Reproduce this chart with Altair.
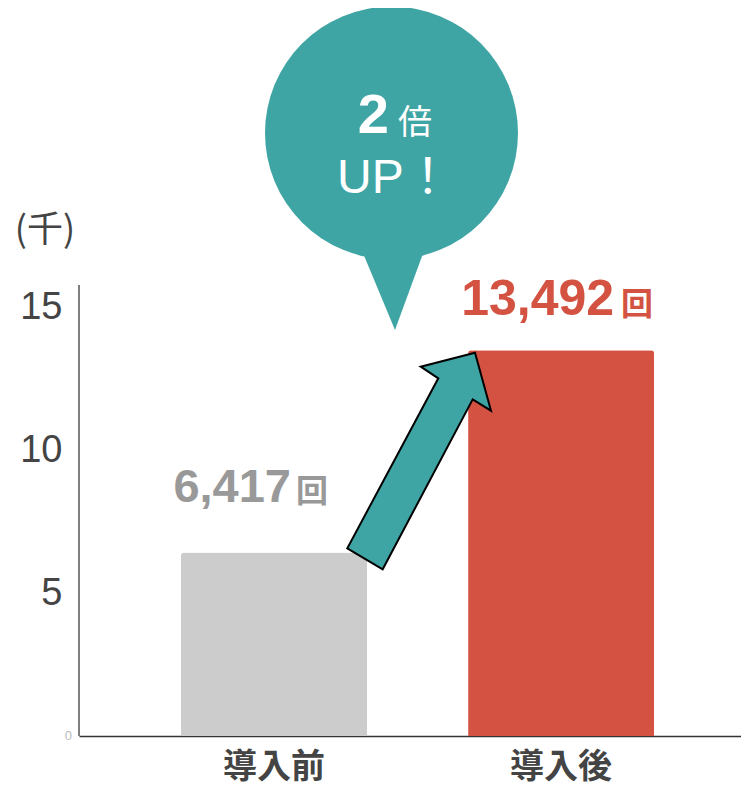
import altair as alt
import pandas as pd

categories = ["導入前", "導入後"]
values = [6.417, 13.492]
value_labels = ["6,417", "13,492"]
unit_label = "回"
bar_colors = ["#cccccc", "#d35241"]
label_colors = ["#999999", "#d35241"]
tick_values = [5, 10, 15]
y_unit = "(千)"
bubble_big = "2"
bubble_small = "倍"
bubble_line2 = "UP！"

TEAL = "#3fa5a4"
W, H = 662, 728
PX = 28.6
YMAX = H / PX

df = pd.DataFrame({"cat": categories, "value": values, "label": value_labels})
one = pd.DataFrame({"k": [0]})

xscale = alt.Scale(domain=categories, paddingInner=0.352, paddingOuter=0.329, align=0.54)
yscale = alt.Scale(domain=[0, YMAX], nice=False, zero=True)

base = alt.Chart(df)

bars = base.mark_bar(cornerRadiusTopLeft=3, cornerRadiusTopRight=3).encode(
    x=alt.X("cat:N", scale=xscale, sort=categories,
            axis=alt.Axis(title=None, ticks=False, domainColor="#333333", domainWidth=1.5,
                          labelFont="Noto Sans CJK JP", labelFontWeight="bold", labelFontSize=34,
                          labelColor="#444444", labelPadding=14, labelAngle=0)),
    y=alt.Y("value:Q", scale=yscale,
            axis=alt.Axis(title=None, values=tick_values, domain=False, ticks=False, grid=False,
                          labelFont="Liberation Sans", labelFontSize=38, labelColor="#444444",
                          labelPadding=17)),
    color=alt.Color("cat:N", scale=alt.Scale(domain=categories, range=bar_colors), legend=None),
)


def bar_label(i, dx_num, dx_unit, dy, num_size, unit_size):
    sub = base.transform_filter(alt.datum.cat == categories[i])
    enc = dict(x=alt.X("cat:N", scale=xscale, sort=categories), y=alt.Y("value:Q", scale=yscale))
    num = sub.mark_text(align="right", baseline="alphabetic", dx=dx_num, dy=dy,
                        font="Liberation Sans", fontWeight="bold", fontSize=num_size,
                        color=label_colors[i]).encode(text="label:N", **enc)
    unit = sub.mark_text(align="left", baseline="alphabetic", dx=dx_unit, dy=dy,
                         font="Noto Sans CJK JP", fontWeight="bold", fontSize=unit_size,
                         color=label_colors[i], text=unit_label).encode(**enc)
    return [num, unit]


labels = bar_label(0, 17, 22, -50, 47, 32) + bar_label(1, 53, 60, -35, 50, 32)

ann = alt.Chart(one)

y_axis_line = ann.mark_rule(color="#555555", strokeWidth=1.5).encode(
    x=alt.value(0), y=alt.value(H), y2=alt.value(277))
zero_label = ann.mark_text(align="right", baseline="middle", font="Liberation Sans",
                           fontSize=13, color="#bbbbbb", text="0").encode(
    x=alt.value(-7), y=alt.value(H))
unit_title = ann.mark_text(align="center", baseline="middle", font="Noto Sans CJK JP",
                           fontSize=36, color="#444444", text=y_unit).encode(
    x=alt.value(-34), y=alt.value(223))

bubble = ann.mark_point(shape="circle", size=253 ** 2, filled=True, fill=TEAL, opacity=1,
                        strokeWidth=0).encode(x=alt.value(312.5), y=alt.value(125))
tail = ann.mark_point(shape="M -31.8 0 L 30.8 0 L 1.5 80 Z", size=4, filled=True, fill=TEAL,
                      opacity=1, strokeWidth=0).encode(x=alt.value(314.5), y=alt.value(242))
arrow = ann.mark_point(
    shape="M -72.7 88.3 L -37.3 109.3 L 52.7 -60.7 L 71 -49.3 L 55 -107.3 L 0.7 -93.3 L 18.3 -81.7 Z",
    size=4, filled=True, fill=TEAL, stroke="#000000", strokeWidth=2, opacity=1,
).encode(x=alt.value(341), y=alt.value(452))

t_big = ann.mark_text(align="right", baseline="alphabetic", font="Liberation Sans",
                      fontWeight="bold", fontSize=56, color="white", text=bubble_big).encode(
    x=alt.value(310), y=alt.value(125))
t_small = ann.mark_text(align="left", baseline="alphabetic", font="Noto Sans CJK JP",
                        fontSize=34, color="white", text=bubble_small).encode(
    x=alt.value(319), y=alt.value(126))
t_line2 = ann.mark_text(align="left", baseline="alphabetic", font="Liberation Sans, Noto Sans CJK JP",
                        fontSize=48, color="white", text=bubble_line2).encode(
    x=alt.value(258), y=alt.value(185))

chart = alt.layer(
    bars, *labels, y_axis_line, zero_label, unit_title, bubble, tail, arrow, t_big, t_small, t_line2
).properties(
    width=W, height=H,
    autosize=alt.AutoSizeParams(type="none"),
    padding={"left": 71, "top": 0, "right": 0, "bottom": 53},
).configure_view(stroke=None)

chart.save("out.html", embed_options={"renderer": "svg", "actions": False})
